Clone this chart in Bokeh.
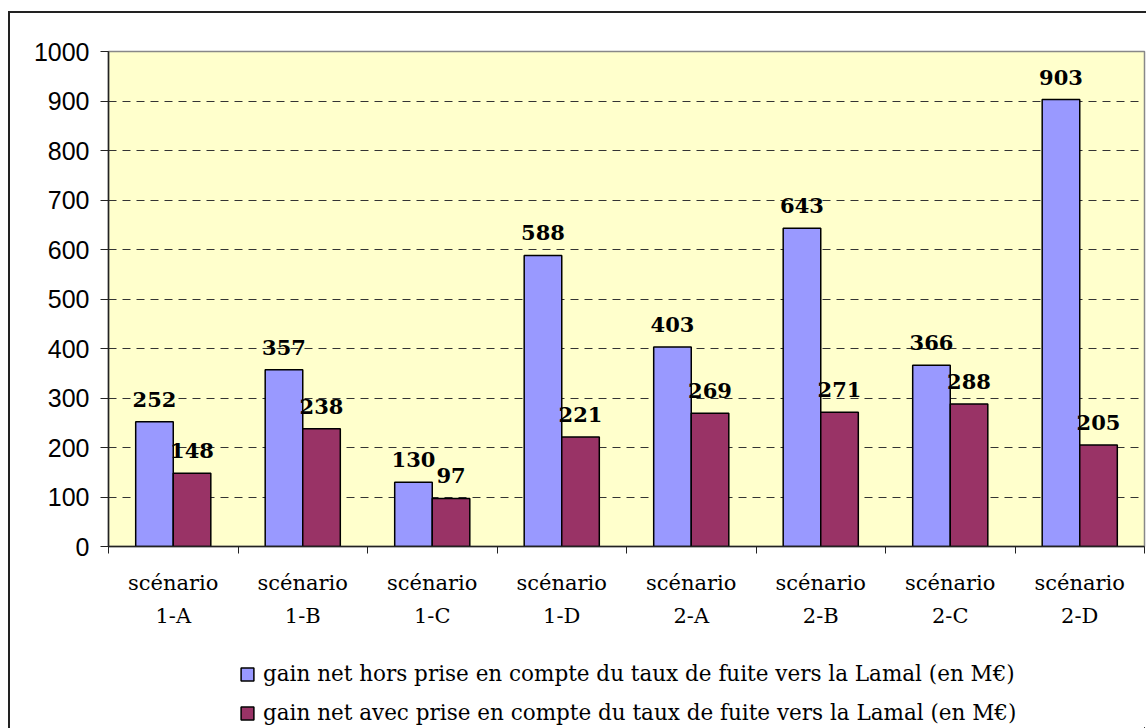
from bokeh.plotting import figure
from bokeh.models import FixedTicker, Legend, LegendItem, ColumnDataSource, LabelSet, Range1d, LinearAxis
from bokeh.layouts import column
from bokeh.embed import file_html
from bokeh.resources import INLINE
from bokeh.core.properties import value

scenarios = ["1-A", "1-B", "1-C", "1-D", "2-A", "2-B", "2-C", "2-D"]
category_word = "scénario"
gain_hors = [252, 357, 130, 588, 403, 643, 366, 903]
gain_avec = [148, 238, 97, 221, 269, 271, 288, 205]
y_ticks = [0, 100, 200, 300, 400, 500, 600, 700, 800, 900, 1000]
series_names = [
    "gain net hors prise en compte du taux de fuite vers la Lamal (en M€)",
    "gain net avec prise en compte du taux de fuite vers la Lamal (en M€)",
]
series_colors = ["#9999FF", "#993366"]

BAR_W = 0.29
idx = list(range(len(scenarios)))
centers = [i + 0.5 for i in idx]
src_hors = ColumnDataSource(dict(x=[c - BAR_W / 2 for c in centers], top=gain_hors,
                                 lbl=[str(v) for v in gain_hors]))
src_avec = ColumnDataSource(dict(x=[c + BAR_W / 2 for c in centers], top=gain_avec,
                                 lbl=[str(v) for v in gain_avec]))

p = figure(frame_width=1036, frame_height=495, x_range=Range1d(0, len(scenarios)), y_range=Range1d(0, 1000),
           output_backend="svg", toolbar_location=None,
           min_border_left=98, min_border_top=38, min_border_right=2, min_border_bottom=100)
p.background_fill_color = "#FFFFCC"
p.border_fill_color = "white"
p.outline_line_color = "#888888"
p.outline_line_width = 1.5

r1 = p.vbar(x="x", top="top", width=BAR_W, source=src_hors, fill_color=series_colors[0],
            line_color="black", line_width=1.5)
r2 = p.vbar(x="x", top="top", width=BAR_W, source=src_avec, fill_color=series_colors[1],
            line_color="black", line_width=1.5)

for src in (src_hors, src_avec):
    p.add_layout(LabelSet(x="x", y="top", text="lbl", source=src, y_offset=15,
                          text_align="center", text_baseline="bottom",
                          text_font=value("DejaVu Serif"), text_font_style="bold",
                          text_font_size="21px", text_color="black"))

# y axis
p.yaxis.ticker = FixedTicker(ticks=y_ticks)
p.yaxis.major_label_text_font = "Liberation Sans"
p.yaxis.major_label_text_font_size = "25px"
p.yaxis.major_label_text_color = "black"
p.yaxis.major_label_standoff = 11
p.yaxis.major_tick_out = 8
p.yaxis.major_tick_in = 0
p.yaxis.minor_tick_out = 0
p.yaxis.minor_tick_in = 0
p.yaxis.axis_line_color = "#222222"
p.yaxis.axis_line_width = 1.5
p.yaxis.major_tick_line_color = "#222222"

# x axis: first line ("scénario") with boundary tick marks
p.xaxis.ticker = FixedTicker(ticks=centers, minor_ticks=list(range(len(scenarios) + 1)))
p.xaxis.major_label_overrides = {c: category_word for c in centers}
p.xaxis.major_label_text_font = "DejaVu Serif"
p.xaxis.major_label_text_font_size = "21px"
p.xaxis.major_label_text_color = "black"
p.xaxis.major_label_standoff = 17
p.xaxis.major_tick_out = 0
p.xaxis.major_tick_in = 0
p.xaxis.minor_tick_out = 7
p.xaxis.minor_tick_in = 0
p.xaxis.axis_line_color = "#222222"
p.xaxis.axis_line_width = 1.5
p.xaxis.minor_tick_line_color = "#222222"

# second line of the category labels
ax2 = LinearAxis(ticker=FixedTicker(ticks=centers),
                 major_label_overrides={c: s for c, s in zip(centers, scenarios)},
                 major_label_text_font="DejaVu Serif", major_label_text_font_size="21px",
                 major_label_text_color="black", major_label_standoff=6,
                 major_tick_out=0, major_tick_in=0, minor_tick_out=0, minor_tick_in=0,
                 axis_line_color=None)
p.add_layout(ax2, "below")

p.xgrid.grid_line_color = None
p.ygrid.grid_line_color = "#333333"
p.ygrid.grid_line_dash = "8 6"
p.ygrid.grid_line_width = 1

# legend strip under the chart (same series, kept entirely out of its visible range)
pl = figure(width=1136, height=82, x_range=Range1d(-20, -10), y_range=Range1d(2000, 3000),
            output_backend="svg", toolbar_location=None,
            x_axis_location=None, y_axis_location=None, min_border=0)
pl.grid.grid_line_color = None
pl.outline_line_color = None
pl.background_fill_color = "white"
pl.border_fill_color = "white"
l1 = pl.vbar(x="x", top="top", width=BAR_W, source=src_hors, fill_color=series_colors[0],
             line_color="black", line_width=1.5)
l2 = pl.vbar(x="x", top="top", width=BAR_W, source=src_avec, fill_color=series_colors[1],
             line_color="black", line_width=1.5)

legend = Legend(items=[LegendItem(label=series_names[0], renderers=[l1]),
                       LegendItem(label=series_names[1], renderers=[l2])],
                location=(129, 1), orientation="vertical",
                label_text_font="DejaVu Serif", label_text_font_size="21.5px",
                label_text_color="black",
                glyph_width=16, glyph_height=16, label_height=24, spacing=14,
                label_standoff=8, border_line_alpha=0, background_fill_alpha=0,
                margin=0, padding=2)
pl.add_layout(legend)

layout = column(p, pl, spacing=0)
layout.styles = {"margin-left": "8px", "margin-top": "11px",
                 "border-left": "2px solid #222222", "border-top": "2px solid #222222"}

open("out.html", "w").write(file_html(layout, INLINE))
